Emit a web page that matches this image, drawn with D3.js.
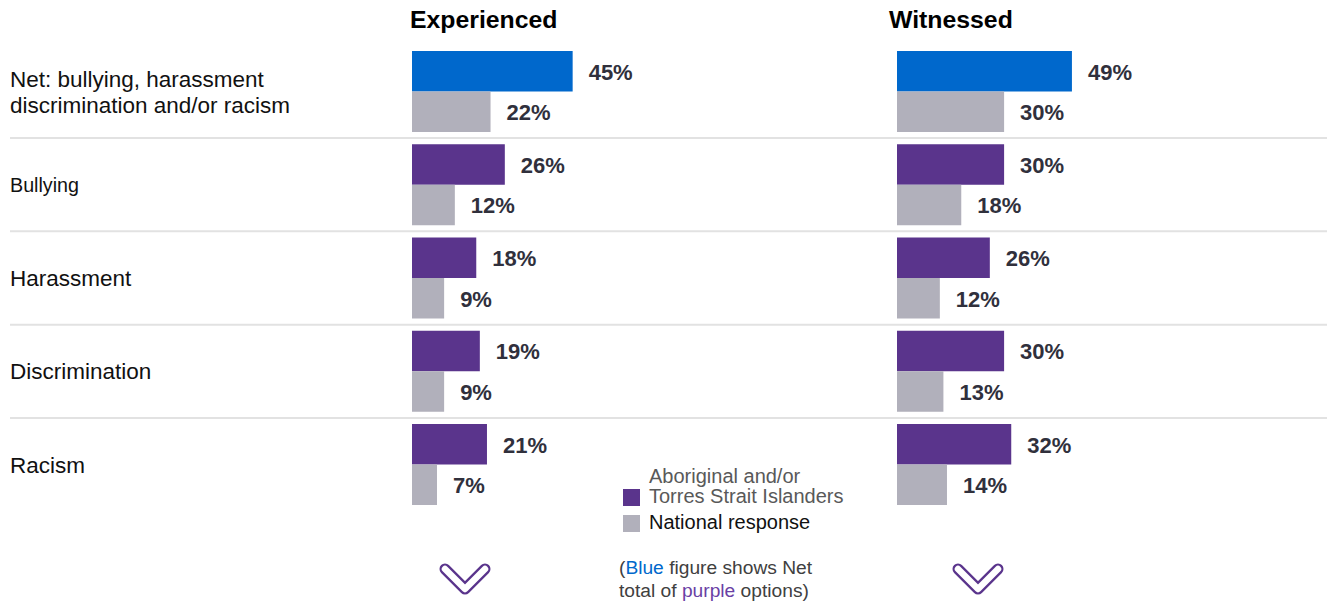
<!DOCTYPE html>
<html>
<head>
<meta charset="utf-8">
<script src="https://cdn.jsdelivr.net/npm/d3@7"></script>
<style>
  html, body { margin: 0; padding: 0; background: #fff; }
  svg { display: block; font-family: "Liberation Sans", Arial, sans-serif; }
</style>
</head>
<body>
<svg id="chart" width="1327" height="601"></svg>
<script>
const categories = [
  "Net: bullying, harassment\ndiscrimination and/or racism",
  "Bullying",
  "Harassment",
  "Discrimination",
  "Racism"
];
const panels = ["Experienced", "Witnessed"];
const experiencedAboriginal = [45, 26, 18, 19, 21];
const experiencedNational   = [22, 12, 9, 9, 7];
const witnessedAboriginal   = [49, 30, 26, 30, 32];
const witnessedNational     = [30, 18, 12, 13, 14];
const seriesNames = ["Aboriginal and/or\nTorres Strait Islanders", "National response"];

const colors = { net: "#0068cc", purple: "#5a348c", gray: "#b1b0bb", value: "#30303c", sep: "#e2e2e2" };

const svg = d3.select("#chart");

const y = d3.scaleBand().domain(categories).range([51, 505]).paddingInner(0.1314).paddingOuter(0);
const ySub = d3.scaleBand().domain(["ab", "nat"]).range([0, y.bandwidth()]);
const x = d3.scaleLinear().domain([0, 100]).range([0, 357]);

const panelData = [
  { name: panels[0], x0: 412, titleX: 410, ab: experiencedAboriginal, nat: experiencedNational, chevX: 465 },
  { name: panels[1], x0: 897, titleX: 889, ab: witnessedAboriginal, nat: witnessedNational, chevX: 978 }
];

// separators
const sepY = categories.slice(0, -1).map(c => y(c) + y.bandwidth() + y.step() * y.paddingInner() / 2);
svg.selectAll("line.sep").data(sepY).join("line")
  .attr("class", "sep")
  .attr("x1", 10).attr("x2", 1327)
  .attr("y1", d => d).attr("y2", d => d)
  .attr("stroke", colors.sep).attr("stroke-width", 2);

// category labels
categories.forEach((c, i) => {
  const lines = c.split("\n");
  const cy = y(c) + y.bandwidth() / 2;
  const fs = i === 1 ? 19.7 : 22.5;
  const lh = 26;
  const t = svg.append("text")
    .attr("x", 10)
    .attr("font-size", fs)
    .attr("fill", "#111");
  lines.forEach((ln, k) => {
    t.append("tspan")
      .attr("x", 10)
      .attr("y", cy + (k - (lines.length - 1) / 2) * lh)
      .attr("dy", "0.36em")
      .text(ln);
  });
});

// panels
panelData.forEach(p => {
  const g = svg.append("g").attr("transform", `translate(${p.x0},0)`);
  svg.append("text")
    .attr("x", p.titleX).attr("y", 28)
    .attr("font-size", 24.8).attr("font-weight", "bold").attr("fill", "#000")
    .text(p.name);

  const rows = categories.map((c, i) => ({ c, i, ab: p.ab[i], nat: p.nat[i] }));
  const bars = [];
  rows.forEach(r => {
    bars.push({ c: r.c, key: "ab", v: r.ab, color: r.i === 0 ? colors.net : colors.purple });
    bars.push({ c: r.c, key: "nat", v: r.nat, color: colors.gray });
  });

  g.selectAll("rect.bar").data(bars).join("rect")
    .attr("class", "bar")
    .attr("x", x(0))
    .attr("y", d => y(d.c) + ySub(d.key))
    .attr("width", d => x(d.v) - x(0))
    .attr("height", ySub.bandwidth())
    .attr("fill", d => d.color);

  g.selectAll("text.val").data(bars).join("text")
    .attr("class", "val")
    .attr("x", d => x(d.v) + 16)
    .attr("y", d => y(d.c) + ySub(d.key) + ySub.bandwidth() / 2)
    .attr("dy", "0.38em")
    .attr("font-size", 22).attr("font-weight", "bold")
    .attr("fill", colors.value)
    .text(d => d.v + "%");

  // chevron
  const chev = `M${p.chevX - 20},569 L${p.chevX},589 L${p.chevX + 20},569`;
  svg.append("path").attr("d", chev).attr("fill", "none")
    .attr("stroke", colors.purple).attr("stroke-width", 11)
    .attr("stroke-linecap", "round").attr("stroke-linejoin", "round");
  svg.append("path").attr("d", chev).attr("fill", "none")
    .attr("stroke", "#fff").attr("stroke-width", 6.5)
    .attr("stroke-linecap", "round").attr("stroke-linejoin", "round");
});

// legend
const leg = svg.append("g");
leg.append("rect").attr("x", 623).attr("y", 489).attr("width", 17).attr("height", 17).attr("fill", colors.purple);
leg.append("rect").attr("x", 623).attr("y", 515).attr("width", 17).attr("height", 17).attr("fill", colors.gray);
const l1 = seriesNames[0].split("\n");
const lt = leg.append("text").attr("font-size", 20).attr("fill", "#595959");
lt.append("tspan").attr("x", 649).attr("y", 483).text(l1[0]);
lt.append("tspan").attr("x", 649).attr("y", 503).text(l1[1]);
leg.append("text").attr("x", 649).attr("y", 529).attr("font-size", 20).attr("fill", "#111").text(seriesNames[1]);

// note
const n1 = svg.append("text").attr("x", 619).attr("y", 574).attr("font-size", 19.2).attr("fill", "#404040");
n1.append("tspan").text("(");
n1.append("tspan").attr("fill", colors.net).text("Blue");
n1.append("tspan").text(" figure shows Net");
const n2 = svg.append("text").attr("x", 619).attr("y", 597).attr("font-size", 19.2).attr("fill", "#404040");
n2.append("tspan").text("total of ");
n2.append("tspan").attr("fill", "#6a3fa5").text("purple");
n2.append("tspan").text(" options)");
</script>
</body>
</html>
